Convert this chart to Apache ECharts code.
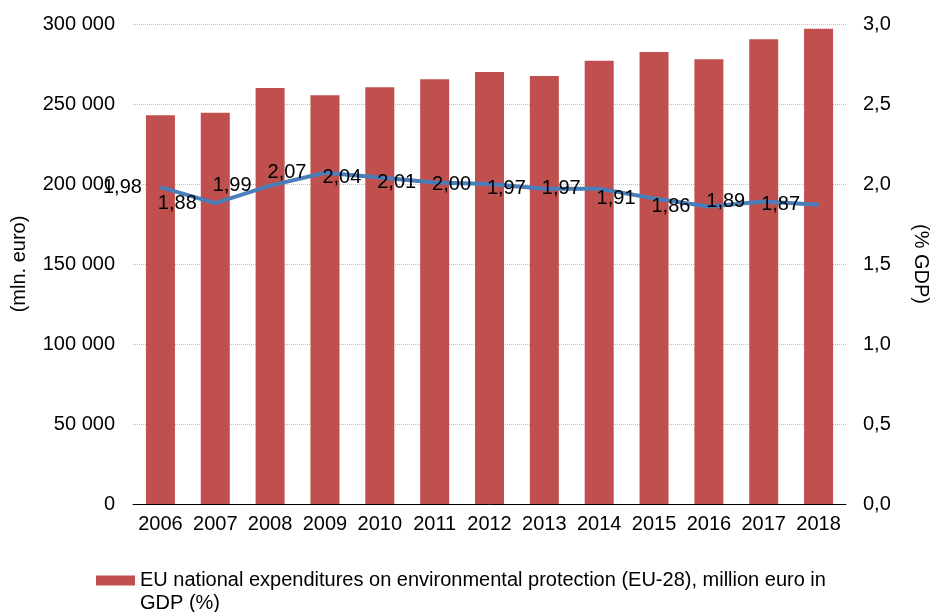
<!DOCTYPE html>
<html>
<head>
<meta charset="utf-8">
<script src="https://cdn.jsdelivr.net/npm/echarts@6/dist/echarts.min.js"></script>
<style>
  html, body { margin: 0; padding: 0; background: #fff; }
  #chart { width: 932px; height: 612px; }
</style>
</head>
<body>
<div id="chart"></div>
<script>
// years on the x axis
const years = ["2006", "2007", "2008", "2009", "2010", "2011", "2012", "2013", "2014", "2015", "2016", "2017", "2018"];
// national expenditures, million euro
const expenditures = [243000, 244500, 260000, 255500, 260500, 265500, 270000, 267500, 277000, 282500, 278000, 290500, 297000];
// share of GDP, %
const gdpShare = [1.98, 1.88, 1.99, 2.07, 2.04, 2.01, 2.00, 1.97, 1.97, 1.91, 1.86, 1.89, 1.87];

const barName = "EU national expenditures on environmental protection (EU-28), million euro in GDP (%)";
const lineName = "GDP share";
const font = "Liberation Sans, Arial, sans-serif";

const chart = echarts.init(document.getElementById("chart"));

chart.setOption({
  animation: false,
  textStyle: { fontFamily: font },
  grid: { left: 133, right: 86, top: 24, bottom: 108, outerBoundsMode: "none", containLabel: false },
  legend: {
    data: [barName],
    left: 96,
    top: 546,
    padding: 0,
    itemWidth: 39,
    itemHeight: 10,
    itemGap: 4,
    icon: "rect",
    // blank first line so the swatch lines up with the first text line
    formatter: (name) => "\u00a0\n" + name,
    textStyle: {
      fontFamily: font,
      fontSize: 20,
      color: "#000",
      width: 700,
      overflow: "break",
      lineHeight: 23
    }
  },
  xAxis: {
    type: "category",
    data: years,
    axisLine: { lineStyle: { color: "#000", width: 1 } },
    axisTick: { length: 6, lineStyle: { color: "#000" } },
    axisLabel: { color: "#000", fontSize: 20, margin: 10, interval: 0 }
  },
  yAxis: [
    {
      type: "value",
      min: 0,
      max: 300000,
      interval: 50000,
      name: "(mln. euro)",
      nameLocation: "middle",
      nameGap: 104,
      nameRotate: 90,
      nameTextStyle: { color: "#000", fontSize: 20 },
      axisLine: { show: false },
      axisTick: { show: false },
      axisLabel: {
        color: "#000",
        fontSize: 20,
        margin: 18,
        formatter: (v) => String(v).replace(/\B(?=(\d{3})+(?!\d))/g, " ")
      },
      splitLine: { lineStyle: { color: "#bfbfbf", type: "dotted", width: 1 } }
    },
    {
      type: "value",
      min: 0,
      max: 3,
      interval: 0.5,
      name: "(% GDP)",
      nameLocation: "middle",
      nameGap: 65,
      nameRotate: -90,
      nameTextStyle: { color: "#000", fontSize: 20 },
      axisLine: { show: false },
      axisTick: { show: false },
      axisLabel: {
        color: "#000",
        fontSize: 20,
        margin: 17,
        formatter: (v) => v.toFixed(1).replace(".", ",")
      },
      splitLine: { show: false }
    }
  ],
  series: [
    {
      name: barName,
      type: "bar",
      data: expenditures,
      barWidth: 29,
      itemStyle: { color: "#c0504d" }
    },
    {
      name: lineName,
      type: "line",
      yAxisIndex: 1,
      data: gdpShare,
      symbol: "circle",
      symbolSize: 1,
      showSymbol: true,
      z: 5,
      lineStyle: { color: "#4a7ebb", width: 4 },
      itemStyle: { color: "#4a7ebb" },
      label: {
        show: true,
        position: "left",
        distance: 18,
        color: "#000",
        fontSize: 20,
        formatter: (p) => p.value.toFixed(2).replace(".", ",")
      }
    }
  ]
});
</script>
</body>
</html>
